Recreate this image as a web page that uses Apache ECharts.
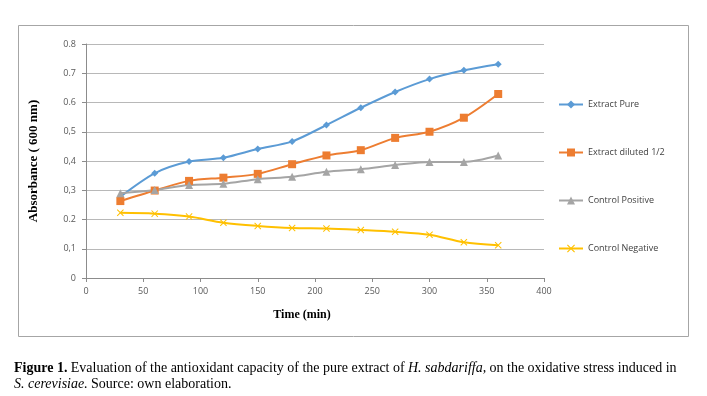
<!DOCTYPE html>
<html>
<head>
<meta charset="utf-8">
<script src="https://cdn.jsdelivr.net/npm/echarts@6/dist/echarts.min.js"></script>
<style>
  html, body { margin: 0; padding: 0; background: #fff; }
  #chart { width: 707px; height: 396px; }
</style>
</head>
<body>
<div id="chart"></div>
<script>
// time points (min)
const times = [30, 60, 90, 120, 150, 180, 210, 240, 270, 300, 330, 360]

// absorbance
const extractPure = [0.278, 0.358, 0.398, 0.411, 0.441, 0.467, 0.523, 0.582, 0.636, 0.680, 0.710, 0.731]
const extractDiluted = [0.263, 0.299, 0.332, 0.343, 0.356, 0.389, 0.419, 0.437, 0.479, 0.500, 0.548, 0.629]
const controlPositive = [0.290, 0.301, 0.318, 0.322, 0.338, 0.346, 0.363, 0.372, 0.386, 0.397, 0.397, 0.419]
const controlNegative = [0.223, 0.220, 0.210, 0.189, 0.178, 0.171, 0.169, 0.164, 0.158, 0.148, 0.122, 0.112]

const seriesNames = ['Extract Pure', 'Extract diluted 1/2', 'Control Positive', 'Control Negative']

// y tick labels as printed in the source (mixed separators)
const yTickLabels = ['0', '0,1', '0.2', '0,3', '0,4', '0,5', '0.6', '0.7', '0.8']

const pair = (vals) => vals.map((v, i) => [times[i], v])

const crossPath = 'path://M0,1L1,0L5,4L9,0L10,1L6,5L10,9L9,10L5,6L1,10L0,9L4,5Z'

const chart = echarts.init(document.getElementById('chart'))

const axisGray = '#8c8c8c'
const labelColor = '#595959'

const mkSeries = (name, data, color, symbol, size) => ({
  name,
  type: 'line',
  data: pair(data),
  smooth: 0.3,
  symbol,
  symbolSize: size,
  showSymbol: true,
  lineStyle: { color, width: 2 },
  itemStyle: { color },
  emphasis: { disabled: true }
})

chart.setOption({
  animation: false,
  backgroundColor: '#fff',
  grid: { left: 86, right: 163, top: 44, bottom: 118, containLabel: false },
  legend: {
    orient: 'vertical',
    left: 553,
    top: 95,
    itemWidth: 24,
    itemHeight: 10,
    itemGap: 39,
    data: seriesNames,
    textStyle: { fontFamily: 'Open Sans, sans-serif', fontSize: 9, color: '#404040' }
  },
  xAxis: {
    type: 'value',
    min: 0,
    max: 400,
    interval: 50,
    name: 'Time (min)',
    nameLocation: 'middle',
    nameGap: 31,
    nameTextStyle: {
      fontFamily: 'Liberation Serif, serif', fontWeight: 'bold', fontSize: 12, color: '#000',
      padding: [0, 26, 0, 0]
    },
    axisLine: { lineStyle: { color: axisGray } },
    axisTick: { show: true, length: 4, lineStyle: { color: axisGray } },
    axisLabel: { fontFamily: 'Open Sans, sans-serif', fontSize: 9, color: labelColor, margin: 9 },
    splitLine: { show: false }
  },
  yAxis: {
    type: 'value',
    min: 0,
    max: 0.8,
    interval: 0.1,
    name: 'Absorbance ( 600 nm)',
    nameLocation: 'middle',
    nameRotate: 90,
    nameGap: 46,
    nameTextStyle: { fontFamily: 'Liberation Serif, serif', fontWeight: 'bold', fontSize: 13, color: '#000' },
    axisLine: { show: true, lineStyle: { color: axisGray } },
    axisTick: { show: true, length: 4, lineStyle: { color: axisGray } },
    axisLabel: {
      fontFamily: 'Open Sans, sans-serif', fontSize: 9, color: labelColor, margin: 10,
      formatter: (v) => yTickLabels[Math.round(v * 10)]
    },
    splitLine: { lineStyle: { color: '#b8b8b8', width: 1 } }
  },
  graphic: [
    {
      type: 'rect',
      shape: { x: 18.5, y: 25.5, width: 670, height: 311 },
      style: { fill: null, stroke: '#a6a6a6', lineWidth: 1 },
      silent: true,
      z: -1
    },
    {
      type: 'text',
      left: 14,
      top: 360,
      style: {
        text: '{b|Figure 1.} {n|Evaluation of the antioxidant capacity of the pure extract of} {i|H. sabdariffa,} {n|on the oxidative stress induced in}\n{i|S. cerevisiae.} {n|Source: own elaboration.}',
        lineHeight: 16,
        rich: {
          b: { fontFamily: 'Liberation Serif, serif', fontWeight: 'bold', fontSize: 14, color: '#1a1a1a', lineHeight: 16 },
          n: { fontFamily: 'Liberation Serif, serif', fontSize: 14, color: '#1a1a1a', lineHeight: 16 },
          i: { fontFamily: 'Liberation Serif, serif', fontStyle: 'italic', fontSize: 14, color: '#1a1a1a', lineHeight: 16 }
        }
      }
    }
  ],
  series: [
    mkSeries(seriesNames[0], extractPure, '#5B9BD5', 'diamond', 7),
    mkSeries(seriesNames[1], extractDiluted, '#ED7D31', 'rect', 8),
    mkSeries(seriesNames[2], controlPositive, '#A5A5A5', 'triangle', 8),
    mkSeries(seriesNames[3], controlNegative, '#FFC000', crossPath, 7)
  ]
})
</script>
</body>
</html>
